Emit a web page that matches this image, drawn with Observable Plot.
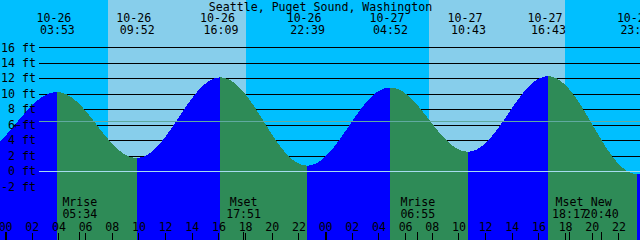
<!DOCTYPE html>
<html><head><meta charset="utf-8">
<script src="https://cdn.jsdelivr.net/npm/d3@7"></script>
<script src="https://cdn.jsdelivr.net/npm/@observablehq/plot@0.6"></script>
<style>html,body{margin:0;padding:0;background:#00BFFF;overflow:hidden}#chart svg{display:block}</style>
</head><body><div id="chart"></div>
<script>
// ---- data ----
const station = "Seattle, Puget Sound, Washington";
// high / low tide events (first and last lie just outside the visible window)
const tideTimes = ["10-25 21:45","10-26 03:53","10-26 09:52","10-26 16:09","10-26 22:39","10-27 04:52","10-27 10:43","10-27 16:43","10-27 23:25","10-28 05:45"];
const tideHeights = [2.1, 10.2, 1.7, 12.1, 0.7, 10.8, 2.5, 12.25, -0.4, 11.0];
const sunriseTimes = ["10-26 07:44","10-27 07:48"];
const sunsetTimes = ["10-26 18:04","10-27 18:00"];
const moonTimes = ["10-26 05:34","10-26 17:51","10-27 06:55","10-27 18:17","10-27 20:40"];
const moonLabels = ["Mrise","Mset","Mrise","Mset","New"];
const tickDays = ["10-26","10-27"];
const tickHours = ["00","02","04","06","08","10","12","14","16","18","20","22"];
const heightTicks = [16, 14, 12, 10, 8, 6, 4, 2, 0, -2];
const meanLevel = 6.5;
const datumLevel = 0;
const timeDomain = ["10-25 23:37","10-27 23:37"];
const heightDomain = [-8.93, 22.12];

// ---- helpers ----
const parse = s => new Date(Date.UTC(2000, +s.slice(0,2)-1, +s.slice(3,5), +s.slice(6,8)||0, +s.slice(9,11)||0));
const fmtDate = d3.utcFormat("%m-%d");
const fmtTime = d3.utcFormat("%H:%M");
const [t0, t1] = timeDomain.map(parse);

const tides = tideTimes.map((s,i) => ({t: parse(s), v: tideHeights[i]}));
const segRows = d3.pairs(tides).flatMap(([a,b], i) => {
  const rising = b.v > a.v;
  return [{t: a.t, v: a.v, seg: i, rising}, {t: b.t, v: b.v, seg: i, rising}];
});
const visibleTides = tides.filter(d => d.t >= t0 && d.t <= t1);
const days = sunriseTimes.map((s,i) => ({rise: parse(s), set: parse(sunsetTimes[i])}));
const moons = moonTimes.map((s,i) => ({t: parse(s), label: moonLabels[i]}));
const hourTicks = tickDays.flatMap(d => tickHours.map(h => ({t: parse(`${d} ${h}:00`), label: h, midnight: h === "00"})));

// half-cosine interpolation between successive extremes (tide-like curve)
function CosineCurve(context){ this._context = context; }
CosineCurve.prototype = {
  areaStart(){ this._line = 0; },
  areaEnd(){ this._line = NaN; },
  lineStart(){ this._point = 0; },
  lineEnd(){
    if (this._line || (this._line !== 0 && this._point === 1)) this._context.closePath();
    this._line = 1 - this._line;
  },
  point(x, y){
    x = +x; y = +y;
    if (this._point === 0) {
      this._point = 1;
      this._line ? this._context.lineTo(x, y) : this._context.moveTo(x, y);
    } else {
      const x0 = this._x0, y0 = this._y0, n = 64;
      for (let k = 1; k <= n; ++k) {
        const f = k / n;
        this._context.lineTo(x0 + (x - x0) * f, y0 + (y - y0) * (1 - Math.cos(Math.PI * f)) / 2);
      }
    }
    this._x0 = x; this._y0 = y;
  }
};
const cosineCurve = ctx => new CosineCurve(ctx);

const FS = 11.6;
const textBase = {fontSize: FS, fill: "black", lineAnchor: "bottom"};

const chart = Plot.plot({
  width: 640, height: 240,
  marginTop: 0, marginRight: 0, marginBottom: 0, marginLeft: 0,
  style: {background: "#00BFFF", fontFamily: "'DejaVu Sans Mono', monospace", color: "black"},
  x: {type: "utc", domain: [t0, t1], axis: null},
  y: {domain: heightDomain, axis: null},
  marks: [
    // daylight bands
    Plot.rect(days, {x1: "rise", x2: "set", y1: heightDomain[0], y2: heightDomain[1], fill: "#87CEEB", shapeRendering: "crispEdges"}),
    // grid lines
    Plot.ruleY(heightTicks.filter(d => d !== datumLevel), {y: d => d, stroke: "black", insetLeft: 39, shapeRendering: "crispEdges"}),
    // tide: rising (blue) and falling (green)
    Plot.areaY(segRows.filter(d => d.rising), {x: "t", y1: heightDomain[0], y2: "v", z: "seg", fill: "#0000FF", curve: cosineCurve, clip: true, shapeRendering: "crispEdges"}),
    Plot.areaY(segRows.filter(d => !d.rising), {x: "t", y1: heightDomain[0], y2: "v", z: "seg", fill: "#2E8B57", curve: cosineCurve, clip: true, shapeRendering: "crispEdges"}),
    // mean level and datum lines
    Plot.ruleY([meanLevel], {y: d => d, stroke: "#60aaa0", insetLeft: 39, shapeRendering: "crispEdges"}),
    Plot.ruleY([datumLevel], {y: d => d, stroke: "#a6dcef", insetLeft: 39, shapeRendering: "crispEdges"}),
    // y labels
    Plot.text(heightTicks, {y: d => d, text: d => `${d} ft`, frameAnchor: "left", textAnchor: "end", dx: 35.5, fontSize: FS, fill: "black", lineAnchor: "middle"}),
    Plot.text([meanLevel], {y: () => 6, text: () => "←", frameAnchor: "left", textAnchor: "middle", dx: 17, fontSize: FS, fill: "black", lineAnchor: "middle"}),
    // title
    Plot.text([station], {text: d => d, frameAnchor: "top", dy: 10, ...textBase}),
    // tide event labels
    Plot.text(visibleTides, {x: "t", text: d => fmtDate(d.t), frameAnchor: "top", dy: 21.7, dx: -3.5, ...textBase}),
    Plot.text(visibleTides, {x: "t", text: d => fmtTime(d.t), frameAnchor: "top", dy: 33.4, ...textBase}),
    // moon event labels
    Plot.text(moons, {x: "t", text: "label", frameAnchor: "top", dy: 205.7, ...textBase}),
    Plot.text(moons, {x: "t", text: d => fmtTime(d.t), frameAnchor: "top", dy: 217.5, ...textBase}),
    // hour ticks and labels
    Plot.ruleX(hourTicks.filter(d => !d.midnight), {x: "t", insetTop: 233, stroke: "black", shapeRendering: "crispEdges"}),
    Plot.ruleX(hourTicks.filter(d => d.midnight), {x: "t", insetTop: 232, stroke: "black", strokeWidth: 2, shapeRendering: "crispEdges"}),
    Plot.ruleX(moons, {x: "t", insetTop: 232, stroke: "black", shapeRendering: "crispEdges"}),
    Plot.text(hourTicks, {x: "t", text: "label", frameAnchor: "top", dy: 230, ...textBase})
  ]
});
document.getElementById("chart").appendChild(chart);
</script>
</body></html>
